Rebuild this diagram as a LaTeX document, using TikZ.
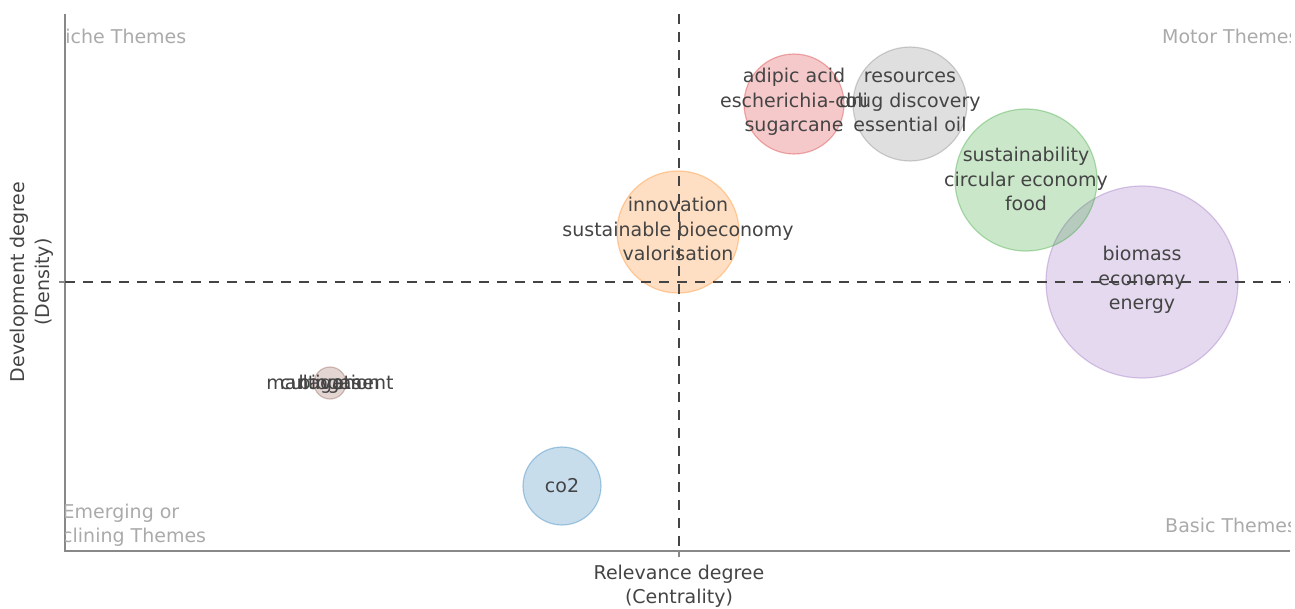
\documentclass[tikz,border=0pt]{standalone}
\usepackage{fontspec}
\setmainfont{DejaVu Sans}
\definecolor{txt}{HTML}{444444}
\definecolor{cornergray}{HTML}{AAAAAA}
\definecolor{axisgray}{HTML}{888888}
\definecolor{pred}{HTML}{D62728}
\definecolor{pgray}{HTML}{7F7F7F}
\definecolor{pgreen}{HTML}{2CA02C}
\definecolor{ppurple}{HTML}{9467BD}
\definecolor{porange}{HTML}{FF7F0E}
\definecolor{pblue}{HTML}{1F77B4}
\definecolor{pbrown}{HTML}{8C564B}
\begin{document}
\begin{tikzpicture}[x=1pt,y=-1pt,
  bubble/.style={circle, inner sep=0pt, draw=#1, fill=#1, fill opacity=0.25, draw opacity=0.35, line width=1.2pt},
  lbl/.style={text=txt, font=\fontsize{19}{24.5}\selectfont, align=center, inner sep=0pt},
  corner/.style={text=cornergray, font=\fontsize{19}{24.5}\selectfont, align=center, inner sep=0pt},
  axisline/.style={draw=axisgray, line width=1.5pt},
  divider/.style={draw=txt, line width=2pt, dash pattern=on 10pt off 8pt}]
\useasboundingbox (0,0) rectangle (1295,608);
% axes
\coordinate (ytop) at (65,14);
\coordinate (orig) at (65,551);
\coordinate (xend) at (1290,551);
\coordinate (xt) at (679,551);
\coordinate (xtb) at (679,557);
\coordinate (yt) at (65,282);
\coordinate (ytl) at (59,282);
\draw[axisline] (ytop) -- (orig) -- (xend);
\draw[axisline] (xt) -- (xtb);
\draw[axisline] (yt) -- (ytl);
% corner labels (clipped to plot area)
\begin{scope}
\clip (65,14) rectangle (1290,551);
\node[corner, anchor=west] (niche) at (51,36) {Niche Themes};
\node[corner, anchor=west] (motor) at (1162,36) {Motor Themes};
\node[corner, anchor=west] (basic) at (1165,525) {Basic Themes};
\node[corner] (emerg) at (121,525) {Emerging or\\Declining Themes};
\end{scope}
% bubbles
\node[bubble=ppurple, minimum size=192pt] (bPurple) at (1142,282) {};
\node[bubble=pgreen, minimum size=142pt] (bGreen) at (1026,180) {};
\node[bubble=pred, minimum size=100pt] (bRed) at (794,104) {};
\node[bubble=pgray, minimum size=114pt] (bGray) at (910,104) {};
\node[bubble=porange, minimum size=122pt] (bOrange) at (678,232) {};
\node[bubble=pblue, minimum size=78pt] (bBlue) at (562,486) {};
\node[bubble=pbrown, minimum size=32pt] (bBrown) at (330,383) {};
% bubble labels
\node[lbl] (tRed) at (794,102) {adipic acid\\escherichia-coli\\sugarcane};
\node[lbl] (tGray) at (910,102) {resources\\drug discovery\\essential oil};
\node[lbl] (tGreen) at (1026,179) {sustainability\\circular economy\\food};
\node[lbl] (tPurple) at (1142,280) {biomass\\economy\\energy};
\node[lbl] (tOrange) at (678,229) {innovation\\sustainable bioeconomy\\valorisation};
\node[lbl] (tBlue) at (562,486) {co2};
\node[lbl, anchor=base] (tBrown1) at (330,389) {management};
\node[lbl, anchor=base] (tBrown2) at (330,389) {cultivation};
\node[lbl, anchor=base] (tBrown3) at (330,389) {biogas};
% quadrant dividers
\coordinate (vtop) at (679,14);
\coordinate (vbot) at (679,551);
\coordinate (hl) at (65,282);
\coordinate (hr) at (1290,282);
\draw[divider] (vtop) -- (vbot);
\draw[divider] (hl) -- (hr);
% axis titles
\node[lbl] (xlab) at (679,586) {Relevance degree\\(Centrality)};
\node[lbl, rotate=90] (ylab) at (32,282) {Development degree\\(Density)};
\end{tikzpicture}
\end{document}
